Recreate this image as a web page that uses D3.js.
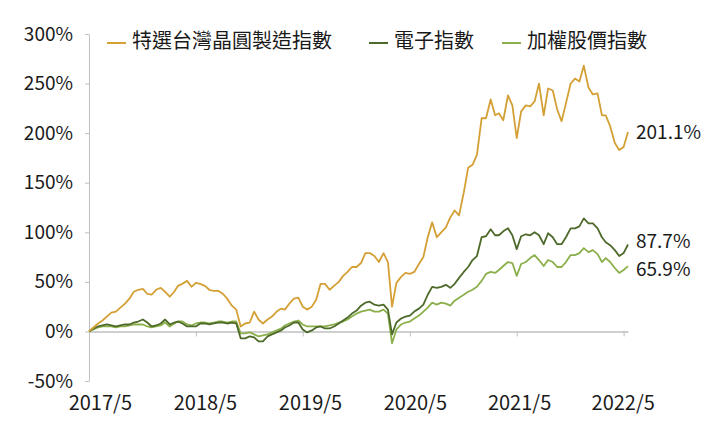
<!DOCTYPE html>
<html><head><meta charset="utf-8">
<script src="https://cdn.jsdelivr.net/npm/d3@7"></script>
<style>
body{margin:0;background:#fff}
svg{display:block}
text{font-family:"Noto Sans CJK TC","Noto Sans",sans-serif;fill:#1a1a1a}
</style>
</head><body>
<svg id="c" width="714" height="427"></svg>
<script>
const dates = [
"2017-05-01","2017-05-16","2017-06-01","2017-06-16","2017-07-01","2017-07-16","2017-08-01","2017-08-16","2017-09-01","2017-09-16","2017-10-01","2017-10-16","2017-11-01","2017-11-16","2017-12-01","2017-12-16",
"2018-01-01","2018-01-16","2018-02-01","2018-02-16","2018-03-01","2018-03-16","2018-04-01","2018-04-16","2018-05-01","2018-05-16","2018-06-01","2018-06-16","2018-07-01","2018-07-16","2018-08-01","2018-08-16","2018-09-01","2018-09-16","2018-10-01","2018-10-16","2018-11-01","2018-11-16","2018-12-01","2018-12-16",
"2019-01-01","2019-01-16","2019-02-01","2019-02-16","2019-03-01","2019-03-16","2019-04-01","2019-04-16","2019-05-01","2019-05-16","2019-06-01","2019-06-16","2019-07-01","2019-07-16","2019-08-01","2019-08-16","2019-09-01","2019-09-16","2019-10-01","2019-10-16","2019-11-01","2019-11-16","2019-12-01","2019-12-16",
"2020-01-01","2020-01-16","2020-02-01","2020-02-16","2020-03-01","2020-03-16","2020-04-01","2020-04-16","2020-05-01","2020-05-16","2020-06-01","2020-06-16","2020-07-01","2020-07-16","2020-08-01","2020-08-16","2020-09-01","2020-09-16","2020-10-01","2020-10-16","2020-11-01","2020-11-16","2020-12-01","2020-12-16",
"2021-01-01","2021-01-16","2021-02-01","2021-02-16","2021-03-01","2021-03-16","2021-04-01","2021-04-16","2021-05-01","2021-05-16","2021-06-01","2021-06-16","2021-07-01","2021-07-16","2021-08-01","2021-08-16","2021-09-01","2021-09-16","2021-10-01","2021-10-16","2021-11-01","2021-11-16","2021-12-01","2021-12-16",
"2022-01-01","2022-01-16","2022-02-01","2022-02-16","2022-03-01","2022-03-16","2022-04-01","2022-04-16","2022-05-01","2022-05-16"
];
const semiconductor = [
0,4,8,11,15,19,20,24,28,33,
40,42,43,38,37,42,44,40,35,40,
46,48,51,45,49,48,46,42,41,41,
38,33,26,22,5,8,9,20,12,8,
12,15,20,23,22,28,33,34,25,22,
25,32,48,48,42,46,50,56,60,65,
65,69,79,79,76,70,79,70,25,49,
55,59,58,60,68,75,95,110,95,100,
105,115,122,117,140,165,168,178,215,215,
234,218,220,213,238,228,195,222,228,227,
232,250,218,245,243,224,212,230,250,255,
252,268,246,239,240,218,218,207,190,183,
186,201.1];
const electronics = [
0,3,5,6,7,6,5,6,7,7,
9,10,12,9,5,6,8,12,7,9,
10,8,5,5,5,8,8,7,8,9,
9,8,9,8,-7,-7,-5,-6,-10,-10,
-5,-3,-1,1,4,6,9,9,2,-1,
1,4,5,3,3,5,8,11,14,18,
21,26,29,30,27,26,27,22,-3,9,
13,15,16,20,23,27,37,45,44,45,
47,44,48,54,60,65,72,76,95,96,
103,97,97,101,104,97,83,96,98,97,
100,97,88,99,95,88,88,95,104,104,
106,114,109,109,104,95,90,87,82,76,
79,87.7];
const taiex = [
0,2,4,5,5,5,4,5,5,6,
7,7,7,5,4,5,6,9,5,8,
10,10,7,6,8,9,9,8,9,10,
10,9,10,10,-2,-2,-1,-3,-5,-4,
-3,-1,1,3,6,8,10,11,7,5,
5,5,5,5,6,7,9,10,12,15,
18,20,21,22,20,20,22,18,-12,2,
7,9,10,13,16,20,24,29,27,29,
28,26,31,34,37,40,42,45,51,58,
60,59,62,66,70,69,56,68,70,74,
77,72,66,72,70,65,65,70,77,77,
79,84,80,82,78,70,74,70,64,59,
62,65.9];
const seriesNames = ["特選台灣晶圓製造指數","電子指數","加權股價指數"];
const seriesColors = ["#D4A035","#4E6A2A","#8BB04B"];
const endLabels = ["201.1%","87.7%","65.9%"];
const yTicks = [-50,0,50,100,150,200,250,300];
const xLabels = ["2017/5","2018/5","2019/5","2020/5","2021/5","2022/5"];
const xLabelDates = ["2017-06-07","2018-06-01","2019-05-26","2020-05-18","2021-05-09","2022-04-28"];
const xTickDates = ["2017-05-01","2018-05-01","2019-05-01","2020-05-01","2021-05-01","2022-05-01"];

const parse = d3.timeParse("%Y-%m-%d");
const svg = d3.select("#c");
const x = d3.scaleTime().domain([parse(dates[0]), parse(dates[dates.length-1])]).range([89, 628]);
const y = d3.scaleLinear().domain([-50, 300]).range([381, 34]);
const gray = "#bfbfbf";

// y axis
const ya = svg.append("g").attr("transform","translate(89,0)")
  .call(d3.axisLeft(y).tickValues(yTicks).tickFormat(d => d + "%").tickSize(4).tickSizeOuter(0).tickPadding(12));
ya.select(".domain").attr("stroke", gray);
ya.selectAll(".tick line").attr("stroke", gray);
ya.selectAll("text").attr("font-size", 19).attr("font-family", null).attr("fill","#1a1a1a");

// zero line with ticks
const za = svg.append("g").attr("transform", `translate(0,${y(0)})`)
  .call(d3.axisBottom(x).tickValues(xTickDates.map(parse)).tickSize(5).tickSizeOuter(0).tickFormat(""));
za.select(".domain").attr("stroke", gray).attr("stroke-width", 1.5);
za.selectAll(".tick line").attr("stroke", gray);

// x labels
const xa = svg.append("g").attr("transform", `translate(0,${y(-50)})`)
  .call(d3.axisBottom(x).tickValues(xLabelDates.map(parse)).tickSize(0).tickPadding(15)
    .tickFormat((d,i) => xLabels[i]));
xa.select(".domain").remove();
xa.selectAll("text").attr("font-size", 20).attr("font-family", null).attr("fill","#1a1a1a");

// lines
const allSeries = [semiconductor, electronics, taiex];
const line = d3.line().x((d,i) => x(parse(dates[i]))).y(d => y(d));
[2,1,0].forEach(s => {
  svg.append("path").datum(allSeries[s])
    .attr("d", line).attr("fill","none")
    .attr("stroke", seriesColors[s]).attr("stroke-width", 1.8)
    .attr("stroke-linejoin","round");
});

// end labels, nudged apart so they do not collide
const labelPos = allSeries.map(s => y(s[s.length-1]));
const minGap = 28;
for (let i = 1; i < labelPos.length; i++) {
  const gap = labelPos[i] - labelPos[i-1];
  if (gap < minGap) {
    const shift = (minGap - gap) / 2;
    labelPos[i-1] -= shift;
    labelPos[i] += shift;
  }
}
allSeries.forEach((s, i) => {
  svg.append("text")
    .attr("x", x(parse(dates[dates.length-1])) + 8)
    .attr("y", labelPos[i])
    .attr("dy", "0.35em")
    .attr("font-size", 19)
    .text(endLabels[i]);
});

// legend
const legendX = [107, 369, 502];
seriesNames.forEach((n, i) => {
  const g = svg.append("g").attr("transform", `translate(${legendX[i]},43)`);
  g.append("line").attr("x1",0).attr("x2",19).attr("y1",0).attr("y2",0)
    .attr("stroke", seriesColors[i]).attr("stroke-width", 2);
  g.append("text").attr("x", 25).attr("y", -2).attr("dy","0.35em")
    .attr("font-size", 20).text(n);
});
</script>
</body></html>
